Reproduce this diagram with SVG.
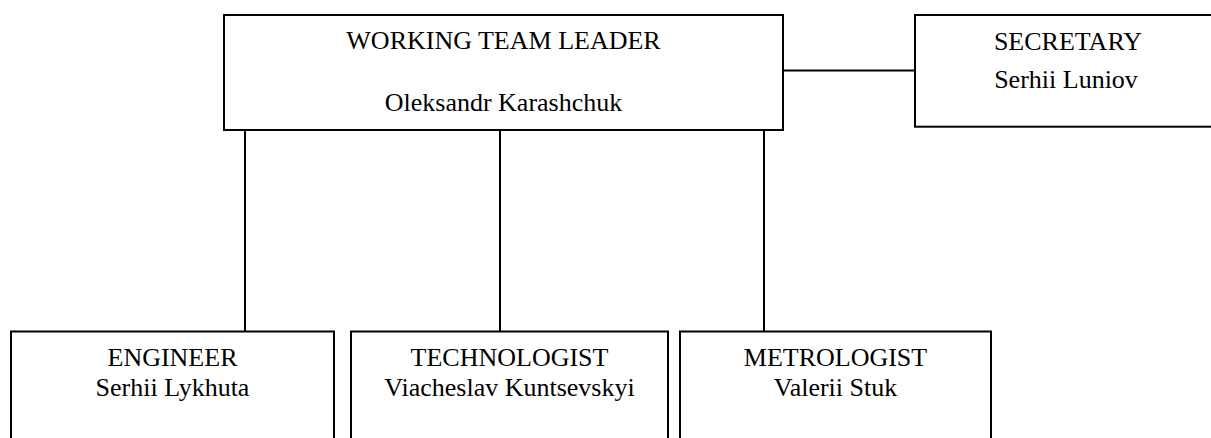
<svg xmlns="http://www.w3.org/2000/svg" width="1211" height="438" viewBox="0 0 1211 438">
<style>
.box{fill:#fff;stroke:#000;stroke-width:2}
.conn{fill:none;stroke:#000;stroke-width:2}
text{font-family:"Liberation Serif","Times New Roman",serif;font-size:26px;fill:#000;text-anchor:middle}
</style>
<rect width="1211" height="438" fill="#fff"/>
<g id="connectors">
<line class="conn" x1="783" y1="70.5" x2="915" y2="70.5"/>
<line class="conn" x1="245" y1="130" x2="245" y2="332"/>
<line class="conn" x1="500" y1="130" x2="500" y2="332"/>
<line class="conn" x1="764" y1="130" x2="764" y2="332"/>
</g>
<g id="leader">
<rect class="box" x="224" y="15" width="559" height="115"/>
<text x="503.5" y="49">WORKING TEAM LEADER</text>
<text x="503.5" y="111">Oleksandr Karashchuk</text>
</g>
<g id="secretary">
<rect class="box" x="915" y="15" width="310" height="111.7"/>
<text x="1068" y="50">SECRETARY</text>
<text x="1066" y="88">Serhii Luniov</text>
</g>
<g id="engineer">
<rect class="box" x="11" y="331.5" width="323" height="120"/>
<text x="172.5" y="366">ENGINEER</text>
<text x="172.5" y="396">Serhii Lykhuta</text>
</g>
<g id="technologist">
<rect class="box" x="351" y="331.5" width="317" height="120"/>
<text x="509.5" y="366">TECHNOLOGIST</text>
<text x="509.5" y="396">Viacheslav Kuntsevskyi</text>
</g>
<g id="metrologist">
<rect class="box" x="680" y="331.5" width="311" height="120"/>
<text x="835.5" y="366">METROLOGIST</text>
<text x="835.5" y="396">Valerii Stuk</text>
</g>
</svg>
